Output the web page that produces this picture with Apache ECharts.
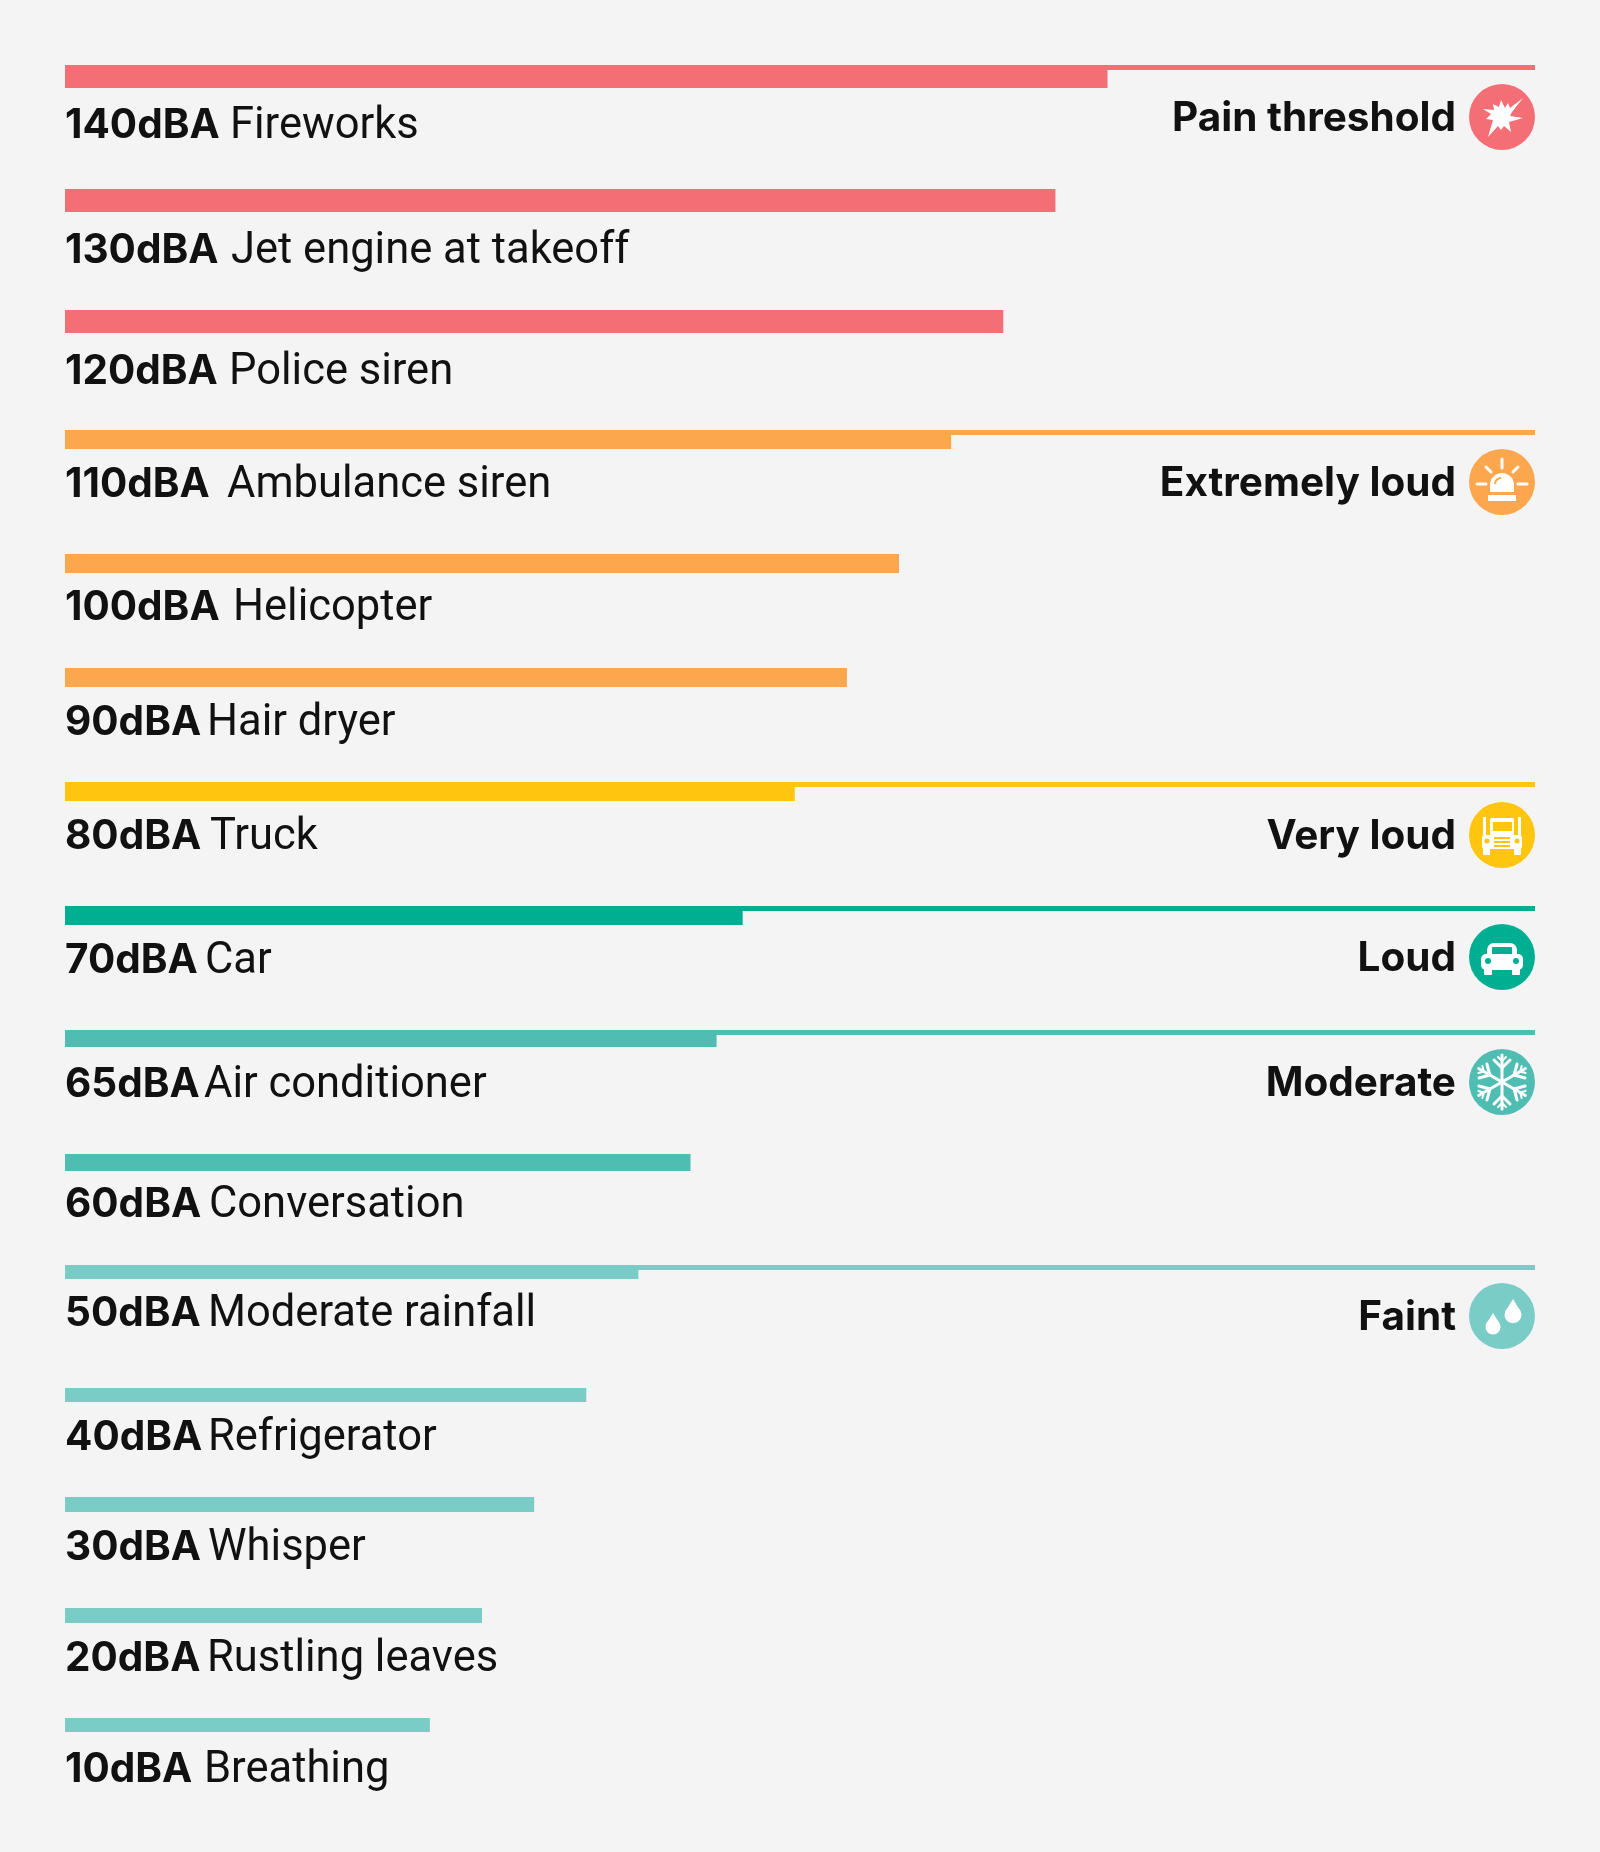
<!DOCTYPE html>
<html>
<head>
<meta charset="utf-8">
<style>html,body{margin:0;padding:0;background:#f4f4f4}#main{width:1600px;height:1852px}</style>
<script src="https://cdn.jsdelivr.net/npm/echarts@6/dist/echarts.min.js"></script>
</head>
<body>
<div id="main"></div>
<script>
// data
const decibels = [140, 130, 120, 110, 100, 90, 80, 70, 65, 60, 50, 40, 30, 20, 10];
const sources = ['Fireworks', 'Jet engine at takeoff', 'Police siren', 'Ambulance siren', 'Helicopter', 'Hair dryer', 'Truck', 'Car', 'Air conditioner', 'Conversation', 'Moderate rainfall', 'Refrigerator', 'Whisper', 'Rustling leaves', 'Breathing'];
const bands = ['Pain threshold', 'Extremely loud', 'Very loud', 'Loud', 'Moderate', 'Faint'];
const bandOfRow = [0, 0, 0, 1, 1, 1, 2, 3, 4, 4, 5, 5, 5, 5, 5];

// the bars do not start from 0 dBA, the left edge sits at -60
const scaleFloor = 60;
const axisMax = 282;

// layout, in page pixels
const plotLeft = 65;
const plotWidth = 1470;
const rowTops = [65, 189, 310, 430, 554, 668, 782, 906, 1030, 1154, 1265, 1388, 1497, 1608, 1718];
const rowHeights = [23, 23, 23, 19, 19, 19, 19, 19, 17, 17, 14, 14, 15, 15, 14];
const rowBaselines = [137, 262, 383, 496, 619, 734, 848, 972, 1096, 1216, 1325, 1449, 1559, 1670, 1781];
const dbColumnWidths = [165, 166, 164, 162, 168, 142, 145, 140, 139, 144, 143, 143, 143, 142, 139];
const ruleRows = [0, 3, 6, 7, 8, 10];
const ruleHeight = 5;
const iconCentres = [117, 482, 835, 957, 1082, 1316];
const iconX = 1502;
const iconR = 33;
const bandTextRight = 1456;

const colors = ['#f46e76', '#fca64d', '#ffc50f', '#00af92', '#50bdb3', '#7accc7'];
const ink = '#111111';
const bg = '#f4f4f4';

const boldFont = 'Inter';
const lightFont = 'Roboto';

const grids = [], xAxes = [], yAxes = [], series = [];

function addPanel(top, height, name, value, color, label, z) {
  const idx = grids.length;
  grids.push({ left: plotLeft, width: plotWidth, top: top, height: height, containLabel: false });
  xAxes.push({ gridIndex: idx, type: 'value', min: 0, max: axisMax, show: false });
  yAxes.push({ gridIndex: idx, type: 'category', data: [name], show: false });
  series.push({
    type: 'bar',
    name: name,
    xAxisIndex: idx,
    yAxisIndex: idx,
    data: [value],
    barWidth: '100%',
    itemStyle: { color: color },
    label: label || { show: false },
    z: z,
    silent: true,
    animation: false
  });
}

// thin rules run the full width at the top of each band's first row
bands.forEach(function (band, i) {
  addPanel(rowTops[ruleRows[i]], ruleHeight, band, axisMax, colors[i], null, 1);
});

decibels.forEach(function (db, i) {
  addPanel(rowTops[i], rowHeights[i], sources[i], db + scaleFloor, colors[bandOfRow[i]], {
    show: true,
    position: [0, rowBaselines[i] - 11 - rowTops[i]],
    verticalAlign: 'middle',
    align: 'left',
    formatter: '{b|' + db + 'dBA}{r|' + sources[i] + '}',
    rich: {
      b: { fontFamily: boldFont, fontWeight: 700, fontSize: 40.5, color: ink, width: dbColumnWidths[i] },
      r: { fontFamily: lightFont, fontWeight: 400, fontSize: 43.5, color: ink, padding: [2, 0, 0, 0] }
    }
  }, 2);
});

// icons, drawn around the centre of each badge
function line(x1, y1, x2, y2, w) {
  return { type: 'line', shape: { x1: x1, y1: y1, x2: x2, y2: y2 }, style: { stroke: '#fff', lineWidth: w || 3, lineCap: 'round' } };
}
function box(x, y, w, h, r, fill) {
  return { type: 'rect', shape: { x: x, y: y, width: w, height: h, r: r || 0 }, style: { fill: fill || '#fff' } };
}
function dot(x, y, r, fill) {
  return { type: 'circle', shape: { cx: x, cy: y, r: r }, style: { fill: fill || '#fff' } };
}
function poly(points) {
  return { type: 'polygon', shape: { points: points }, style: { fill: '#fff' } };
}

function burstIcon() {
  return [poly([[21, -19], [8, -9], [6, -14], [3, -9], [-1, -17], [-3, -10], [-9, -13], [-8, -7], [-19, -8], [-11, -3], [-16, 2], [-9, 3], [-14, 20], [-4, 9], [-1, 13], [2, 9], [9, 15], [7, 5], [21, 1], [8, -1], [10, -5]])];
}
function sirenIcon(c) {
  return [
    line(0, -23, 0, -14), line(-16, -15, -11, -10), line(16, -15, 11, -10),
    line(-25, 2, -16, 2), line(16, 2, 25, 2),
    box(-12, -9, 24, 19, [12, 12, 0, 0]),
    box(-14, 13, 28, 6),
    { type: 'arc', shape: { cx: -1, cy: 2, r: 6, startAngle: Math.PI, endAngle: Math.PI * 1.5 }, style: { stroke: c, fill: null, lineWidth: 2 } }
  ];
}
function truckIcon(c) {
  return [
    box(-19, -18, 3, 18), box(16, -18, 3, 18),
    box(-12, -17, 24, 18, 2),
    box(-9, -13, 19, 9, 0, c),
    box(-20, 0, 40, 14, 3),
    box(-19, 12, 7, 8, 1), box(12, 12, 7, 8, 1),
    box(-8, 2, 16, 2, 0, c), box(-8, 6, 16, 2, 0, c), box(-8, 10, 16, 2, 0, c),
    dot(-15, 6, 2.5, c), dot(15, 6, 2.5, c)
  ];
}
function carIcon(c) {
  return [
    box(-15, -14, 30, 18, [7, 7, 0, 0]),
    box(-10, -10, 20, 8, 1, c),
    box(-21, -3, 42, 16, 5),
    box(-18, 11, 8, 7, 1), box(10, 11, 8, 7, 1),
    dot(-14, 4, 3, c), dot(14, 4, 3, c)
  ];
}
function flakeIcon() {
  const arms = [];
  for (let k = 0; k < 6; k++) {
    arms.push({
      type: 'group',
      rotation: k * Math.PI / 3,
      children: [line(0, 0, 0, -27), line(0, -14, -8, -22), line(0, -14, 8, -22), line(0, -21, -4, -25, 2), line(0, -21, 4, -25, 2)]
    });
  }
  return arms;
}
function drop(x, tip, r) {
  const cy = tip + r * 1.85;
  return [dot(x, cy, r), poly([[x, tip], [x - r * 0.88, cy - r * 0.42], [x + r * 0.88, cy - r * 0.42]])];
}
function dropsIcon() {
  return drop(-9, -3, 7.5).concat(drop(11, -17, 8.5));
}

const iconDrawers = [burstIcon, sirenIcon, truckIcon, carIcon, flakeIcon, dropsIcon];

const graphic = [];
bands.forEach(function (band, i) {
  graphic.push({
    type: 'text',
    x: bandTextRight,
    y: iconCentres[i] + 2,
    style: { text: band, fontFamily: boldFont, fontWeight: 700, fontSize: 40.5, fill: ink, textAlign: 'right', textVerticalAlign: 'middle' }
  });
  graphic.push({
    type: 'group',
    x: iconX,
    y: iconCentres[i],
    children: [dot(0, 0, iconR, colors[i])].concat(iconDrawers[i](colors[i]))
  });
});

const chart = echarts.init(document.getElementById('main'));
chart.setOption({
  backgroundColor: bg,
  animation: false,
  tooltip: { show: false },
  grid: grids,
  xAxis: xAxes,
  yAxis: yAxes,
  series: series,
  graphic: graphic
});
</script>
</body>
</html>
